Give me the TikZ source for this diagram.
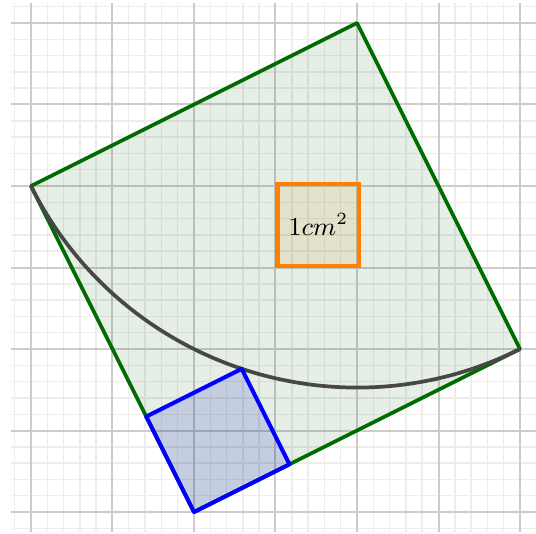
\documentclass[tikz,border=0pt]{standalone}
\usetikzlibrary{calc}
\begin{document}
\begin{tikzpicture}[x=1cm,y=1cm,
  minorgrid/.style={draw=black!7,line width=0.5pt},
  majorgrid/.style={draw=black!20,line width=0.7pt},
  bigsq/.style={draw=green!42!black,line width=1.3pt,fill=green!40!black,fill opacity=0.1,draw opacity=1,line join=round},
  unitsq/.style={draw=orange,line width=1.4pt,fill=orange!60!brown,fill opacity=0.12,draw opacity=1},
  smallsq/.style={draw=blue,line width=1.4pt,fill=blue!75!black,fill opacity=0.14,draw opacity=1,line join=round},
  arcline/.style={draw=black!72,line width=1.3pt}]
\useasboundingbox (-0.38,-0.258) rectangle (6.196,6.282);
\draw[minorgrid,step=0.2] (-0.25,-0.25) grid (6.25,6.25);
\draw[majorgrid,step=1] (-0.25,-0.25) grid (6.25,6.25);
% big square
\coordinate (A) at (0,4);
\coordinate (B) at (4,6);
\coordinate (C) at (6,2);
\coordinate (D) at (2,0);
\path[bigsq] (A) -- (B) -- (C) -- (D) -- cycle;
% unit square
\node[unitsq,minimum size=1cm,inner sep=0pt,anchor=south west] (U) at (3,3) {};
\node[font=\small] at (U.center) {$1cm^2$};
% arc centred at B
\draw[arcline] (A) arc[start angle={atan2(-2,-4)},end angle={atan2(-4,2)},radius={sqrt(20)}];
% small square
\coordinate (P) at ({2-(2-sqrt(2))},{2*(2-sqrt(2))});
\coordinate (Q) at ({2+(2-sqrt(2))},{3*(2-sqrt(2))});
\coordinate (R) at ({2+2*(2-sqrt(2))},{2-sqrt(2)});
\path[smallsq] (D) -- (P) -- (Q) -- (R) -- cycle;
\end{tikzpicture}
\end{document}
